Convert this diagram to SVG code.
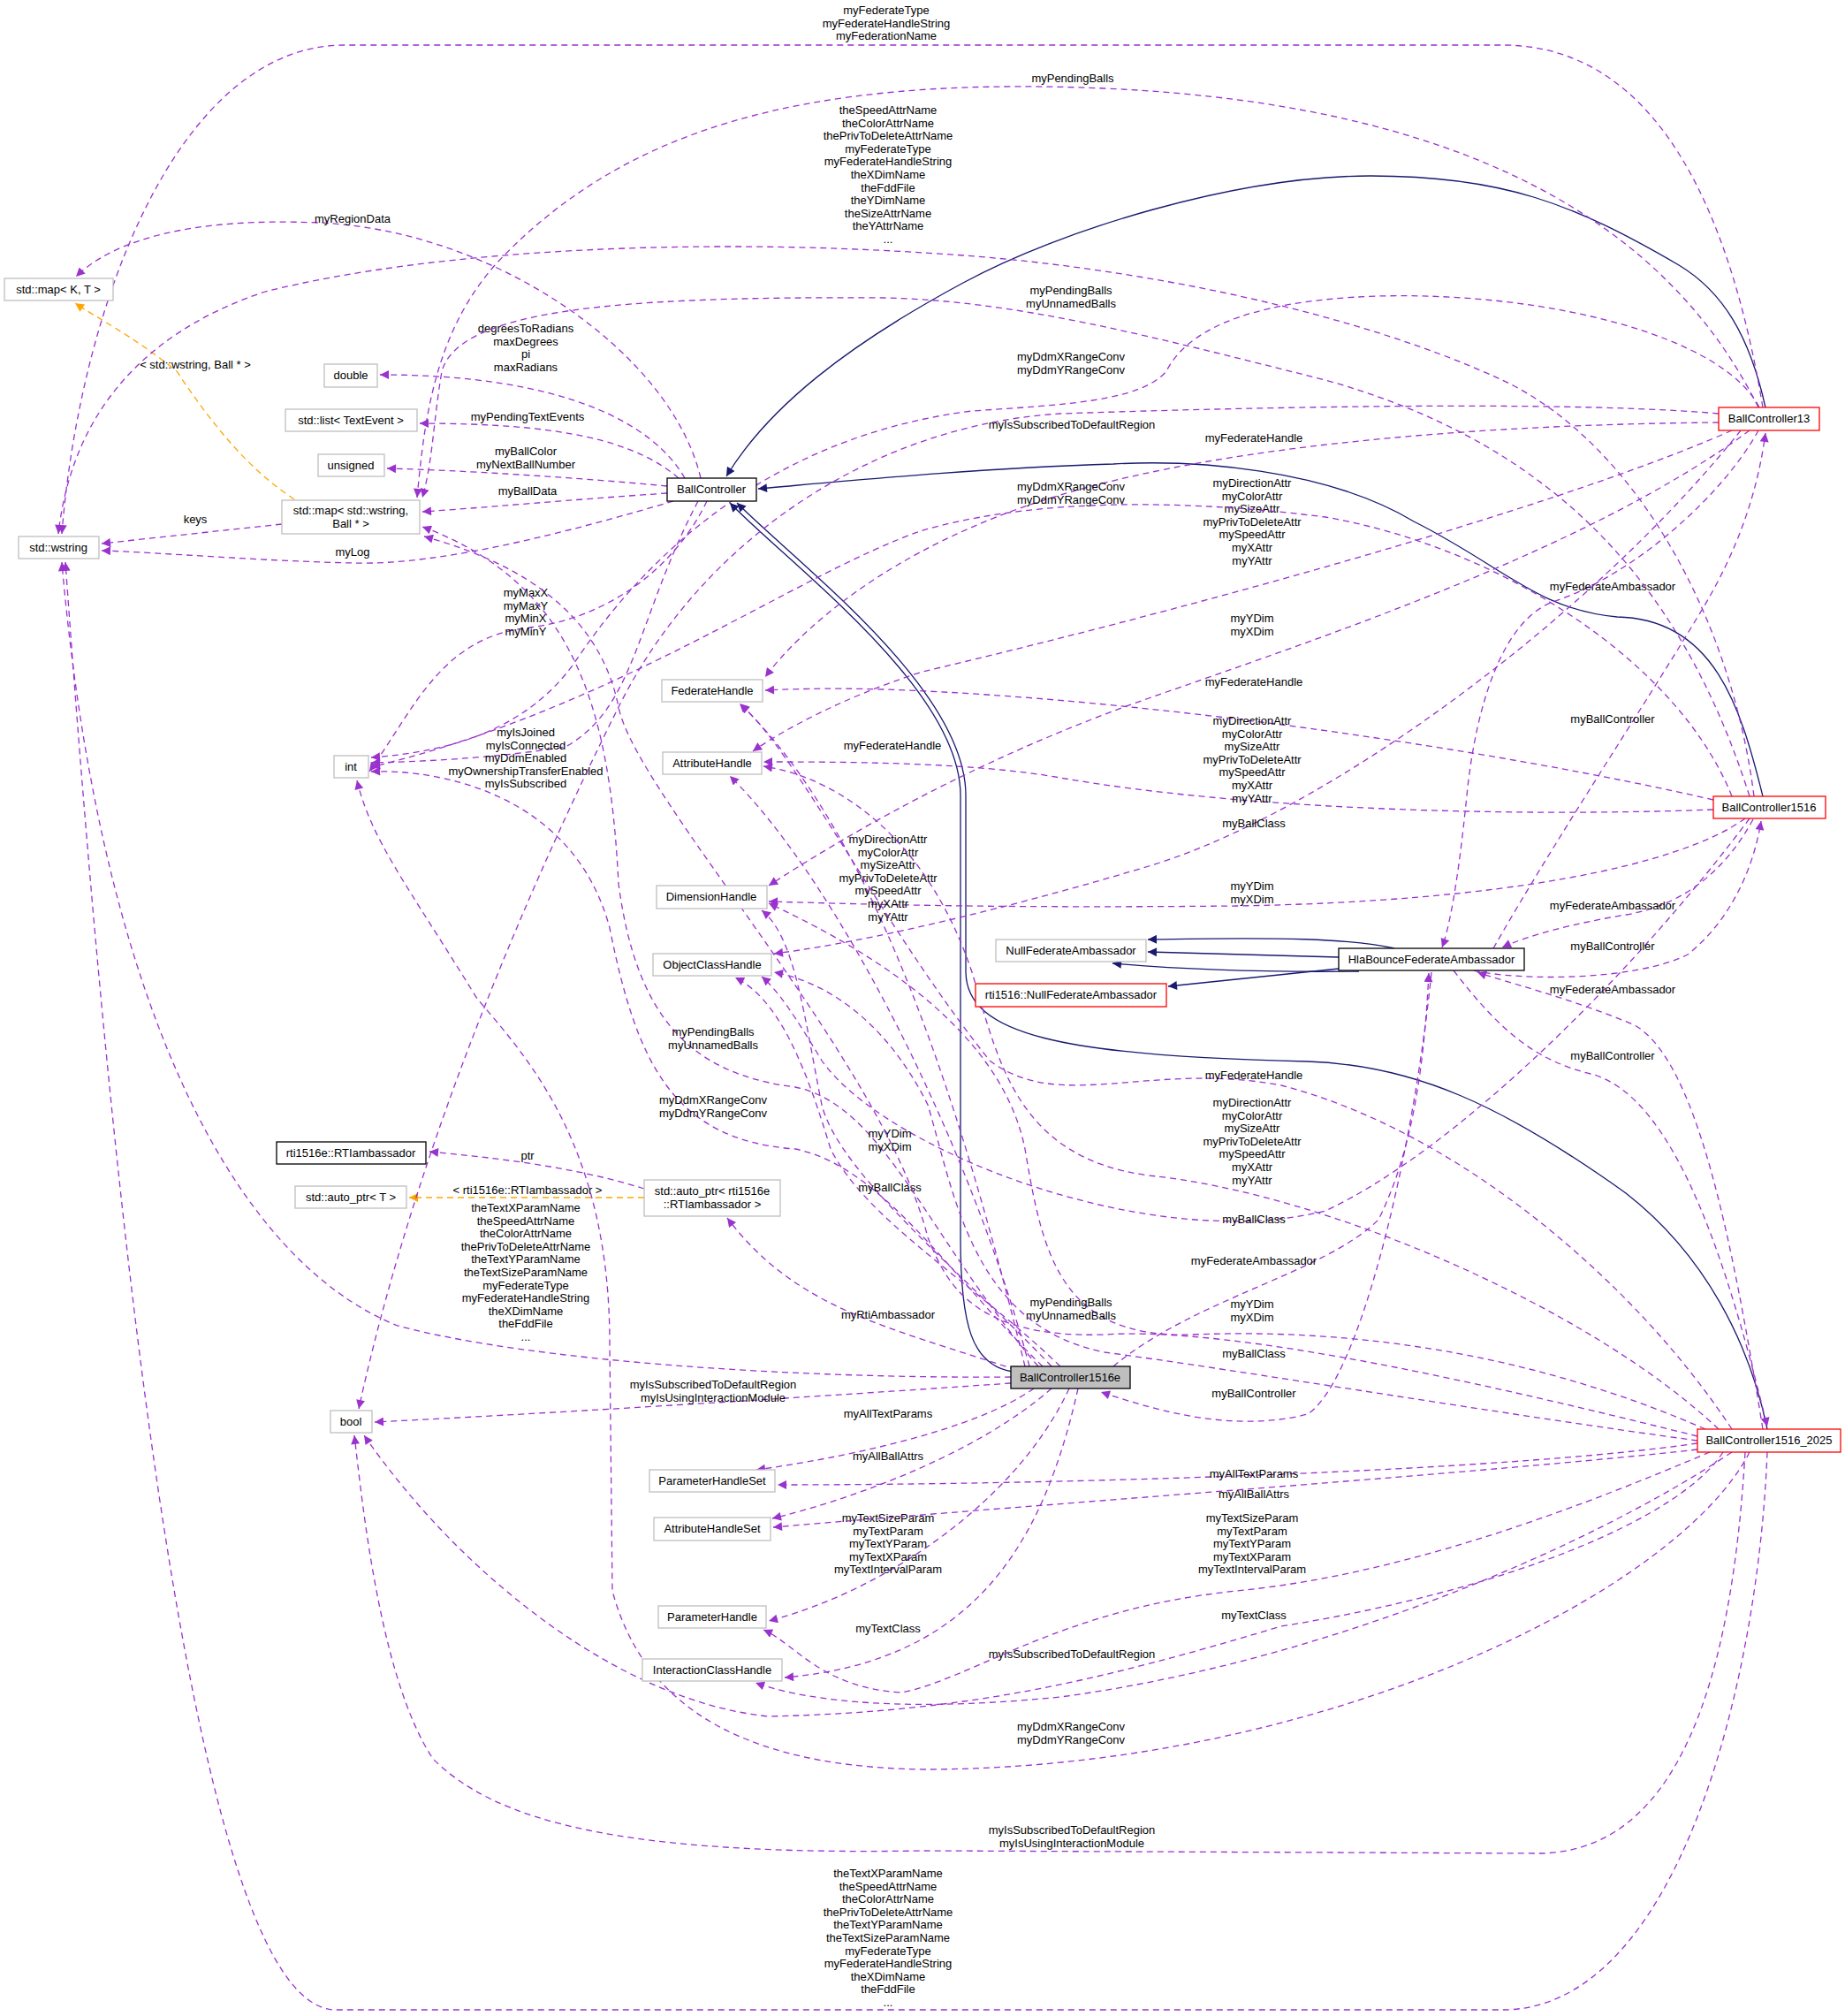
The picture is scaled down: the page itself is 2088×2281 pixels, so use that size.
<svg xmlns="http://www.w3.org/2000/svg" width="2088" height="2281" viewBox="0 0 2088 2281">
<style>
text{font-family:"Liberation Sans",Arial,sans-serif;font-size:13px;fill:#000;text-anchor:middle}
.n rect{fill:#fff;stroke:#bfbfbf;stroke-width:1.3}
.n.b rect{stroke:#000}
.n.r rect{stroke:#ff0000}
.n.g rect{fill:#bfbfbf;stroke:#000}
.u{fill:none;stroke:#9a32cd;stroke-width:1.3;stroke-dasharray:7,5;marker-end:url(#pa)}
.t{fill:none;stroke:#ffa500;stroke-width:1.3;stroke-dasharray:7,5;marker-end:url(#oa)}
.i{fill:none;stroke:#191970;stroke-width:1.3;marker-end:url(#na)}
</style>
<defs>
<marker id="pa" viewBox="0 0 10 10" refX="10" refY="5" markerWidth="13" markerHeight="10" markerUnits="userSpaceOnUse" orient="auto"><path d="M0,0L10,5L0,10z" fill="#9a32cd"/></marker>
<marker id="oa" viewBox="0 0 10 10" refX="10" refY="5" markerWidth="13" markerHeight="10" markerUnits="userSpaceOnUse" orient="auto"><path d="M0,0L10,5L0,10z" fill="#ffa500"/></marker>
<marker id="na" viewBox="0 0 10 10" refX="10" refY="5" markerWidth="13" markerHeight="10" markerUnits="userSpaceOnUse" orient="auto"><path d="M0,0L10,5L0,10z" fill="#191970"/></marker>
</defs>
<rect width="2088" height="2281" fill="#fff"/>
<g id="edges">
<!-- inheritance -->
<path class="i" d="M1998,461 C1980,380 1950,330 1900,300 C1780,230 1700,199 1551,199 C1400,199 1200,260 1090,320 C960,390 870,460 822,539"/>
<path class="i" d="M1995,901 C1970,800 1940,700 1830,698 C1740,690 1700,640 1600,590 C1500,530 1350,520 1260,525 C1100,530 950,545 858,553"/>
<path class="i" d="M1146,1552 C1100,1545 1087,1500 1087,1400 L1087,900 C1087,780 895,640 826,569"/>
<path class="i" d="M2000,1617 C1980,1520 1930,1420 1840,1350 C1700,1250 1600,1205 1480,1201 C1200,1195 1094,1170 1093,1100 L1093,900 C1093,780 905,640 834,569"/>
<path class="i" d="M1578,1073 C1530,1062 1450,1060 1299,1063"/>
<path class="i" d="M1515,1083 L1299,1077"/>
<path class="i" d="M1538,1099 C1450,1100 1350,1098 1259,1090"/>
<path class="i" d="M1515,1096 L1322,1116"/>
<!-- templates -->
<path class="t" d="M333,565 C280,530 240,480 200,420 C150,380 110,360 85,343"/>
<text x="221" y="417">&lt; std::wstring, Ball * &gt;</text>
<path class="t" d="M729,1355 L463,1355"/>
<text x="597" y="1351">&lt; rti1516e::RTIambassador &gt;</text>
<!-- BallController -->
<path class="u" d="M793,541 C760,400 560,260 360,252 C220,246 130,270 86,313"/>
<text x="399" y="252">myRegionData</text>
<path class="u" d="M775,541 C740,480 640,424 430,424"/>
<text x="595" y="376">degreesToRadians<tspan x="595" dy="14.6">maxDegrees</tspan><tspan x="595" dy="14.6">pi</tspan><tspan x="595" dy="14.6">maxRadians</tspan></text>
<path class="u" d="M768,541 C720,500 640,479 475,479"/>
<text x="597" y="476">myPendingTextEvents</text>
<path class="u" d="M755,550 C650,540 520,532 438,530"/>
<text x="595" y="515">myBallColor<tspan x="595" dy="14.6">myNextBallNumber</tspan></text>
<path class="u" d="M755,558 C650,565 540,575 478,579"/>
<text x="597" y="560">myBallData</text>
<path class="u" d="M762,567 C650,600 500,640 400,637 C300,635 180,625 115,623"/>
<text x="399" y="629">myLog</text>
<path class="u" d="M319,593 L115,615"/>
<text x="221" y="592">keys</text>
<path class="u" d="M790,567 C720,700 720,800 640,845 C560,858 470,862 420,863"/>
<text x="595" y="833">myIsJoined<tspan x="595" dy="14.6">myIsConnected</tspan><tspan x="595" dy="14.6">myDdmEnabled</tspan><tspan x="595" dy="14.6">myOwnershipTransferEnabled</tspan><tspan x="595" dy="14.6">myIsSubscribed</tspan></text>
<path class="u" d="M800,567 C760,650 680,700 600,710 C500,720 470,800 418,873"/>
<text x="595" y="675">myMaxX<tspan x="595" dy="14.6">myMaxY</tspan><tspan x="595" dy="14.6">myMinX</tspan><tspan x="595" dy="14.6">myMinY</tspan></text>
<!-- auto_ptr -->
<path class="u" d="M729,1345 C650,1320 560,1310 486,1303"/>
<text x="597" y="1312">ptr</text>
<!-- BallController13 -->
<path class="u" d="M1995,461 C1960,250 1880,51 1700,51 L390,51 C200,51 90,350 70,604"/>
<text x="1003" y="16">myFederateType<tspan x="1003" dy="14.6">myFederateHandleString</tspan><tspan x="1003" dy="14.6">myFederationName</tspan></text>
<path class="u" d="M1990,461 C1900,280 1700,120 1250,100 C900,85 700,150 560,300 C490,380 480,480 472,563"/>
<text x="1214" y="93">myPendingBalls</text>
<path class="u" d="M1991,461 C1950,380 1750,330 1560,335 C1400,340 1340,380 1320,420 C1290,455 1200,458 1100,465 C900,490 750,600 650,750 C600,820 520,850 420,857"/>
<text x="1212" y="408">myDdmXRangeConv<tspan x="1212" dy="14.6">myDdmYRangeConv</tspan></text>
<path class="u" d="M1945,468 C1800,455 1500,458 1200,468 C1000,480 800,600 700,800 C600,1000 470,1300 406,1594"/>
<text x="1213" y="485">myIsSubscribedToDefaultRegion</text>
<path class="u" d="M1945,478 C1700,480 1400,500 1200,560 C1000,620 900,720 866,766"/>
<text x="1419" y="500">myFederateHandle</text>
<path class="u" d="M1960,487 C1750,580 1300,700 1044,760 C950,790 880,830 852,850"/>
<text x="1417" y="551">myDirectionAttr<tspan x="1417" dy="14.6">myColorAttr</tspan><tspan x="1417" dy="14.6">mySizeAttr</tspan><tspan x="1417" dy="14.6">myPrivToDeleteAttr</tspan><tspan x="1417" dy="14.6">mySpeedAttr</tspan><tspan x="1417" dy="14.6">myXAttr</tspan><tspan x="1417" dy="14.6">myYAttr</tspan></text>
<path class="u" d="M1990,487 C1950,560 1850,650 1760,680 C1700,700 1670,800 1660,900 C1650,1000 1640,1050 1632,1072"/>
<text x="1825" y="668">myFederateAmbassador</text>
<path class="u" d="M1980,487 C1800,620 1500,720 1300,790 C1100,860 950,950 870,1002"/>
<text x="1417" y="704">myYDim<tspan x="1417" dy="14.6">myXDim</tspan></text>
<path class="u" d="M1970,487 C1800,700 1500,920 1300,980 C1100,1040 950,1070 876,1079"/>
<text x="1419" y="936">myBallClass</text>
<!-- BallController1516 -->
<path class="u" d="M1985,901 C1960,700 1850,500 1700,430 C1550,360 1300,300 1045,286 C800,270 500,280 300,330 C150,380 80,480 66,604"/>
<text x="1005" y="129">theSpeedAttrName<tspan x="1005" dy="14.6">theColorAttrName</tspan><tspan x="1005" dy="14.6">thePrivToDeleteAttrName</tspan><tspan x="1005" dy="14.6">myFederateType</tspan><tspan x="1005" dy="14.6">myFederateHandleString</tspan><tspan x="1005" dy="14.6">theXDimName</tspan><tspan x="1005" dy="14.6">theFddFile</tspan><tspan x="1005" dy="14.6">theYDimName</tspan><tspan x="1005" dy="14.6">theSizeAttrName</tspan><tspan x="1005" dy="14.6">theYAttrName</tspan><tspan x="1005" dy="14.6">...</tspan></text>
<path class="u" d="M1980,901 C1900,650 1750,500 1500,430 C1300,380 1150,340 1000,337 C700,335 520,350 500,420 C490,480 490,520 478,563"/>
<text x="1212" y="333">myPendingBalls<tspan x="1212" dy="14.6">myUnnamedBalls</tspan></text>
<path class="u" d="M1960,901 C1900,750 1700,620 1500,585 C1300,560 1150,570 1044,600 C900,650 700,800 420,868"/>
<text x="1212" y="555">myDdmXRangeConv<tspan x="1212" dy="14.6">myDdmYRangeConv</tspan></text>
<path class="u" d="M1939,905 C1700,850 1300,790 1000,780 C930,778 890,780 866,781"/>
<text x="1419" y="776">myFederateHandle</text>
<path class="u" d="M1939,916 C1700,925 1400,915 1200,880 C1100,862 950,862 864,862"/>
<text x="1417" y="820">myDirectionAttr<tspan x="1417" dy="14.6">myColorAttr</tspan><tspan x="1417" dy="14.6">mySizeAttr</tspan><tspan x="1417" dy="14.6">myPrivToDeleteAttr</tspan><tspan x="1417" dy="14.6">mySpeedAttr</tspan><tspan x="1417" dy="14.6">myXAttr</tspan><tspan x="1417" dy="14.6">myYAttr</tspan></text>
<path class="u" d="M1975,926 C1900,980 1700,1020 1400,1025 C1100,1028 950,1022 870,1020"/>
<text x="1417" y="1007">myYDim<tspan x="1417" dy="14.6">myXDim</tspan></text>
<path class="u" d="M1984,927 C1950,990 1900,1025 1840,1035 C1780,1045 1730,1058 1700,1072"/>
<text x="1825" y="1029">myFederateAmbassador</text>
<path class="u" d="M1980,926 C1850,1100 1650,1300 1500,1370 C1300,1420 1000,1300 930,1200 C900,1150 880,1120 862,1105"/>
<text x="1419" y="1384">myBallClass</text>
<!-- HlaBounceFederateAmbassador -->
<path class="u" d="M1690,1073 C1760,950 1860,800 1920,700 C1970,620 1990,550 1998,490"/>
<text x="1825" y="818">myBallController</text>
<path class="u" d="M1668,1098 C1720,1110 1850,1110 1910,1080 C1960,1040 1985,980 1993,929"/>
<text x="1825" y="1075">myBallController</text>
<path class="u" d="M1645,1098 C1700,1170 1740,1200 1800,1215 C1900,1240 1960,1450 2000,1614"/>
<text x="1825" y="1199">myBallController</text>
<path class="u" d="M1620,1100 C1600,1300 1540,1560 1480,1600 C1400,1620 1320,1600 1246,1575"/>
<text x="1419" y="1581">myBallController</text>
<!-- BallController1516e -->
<path class="u" d="M1144,1558 C900,1560 600,1540 450,1500 C250,1420 110,1100 70,636"/>
<text x="595" y="1371">theTextXParamName<tspan x="595" dy="14.6">theSpeedAttrName</tspan><tspan x="595" dy="14.6">theColorAttrName</tspan><tspan x="595" dy="14.6">thePrivToDeleteAttrName</tspan><tspan x="595" dy="14.6">theTextYParamName</tspan><tspan x="595" dy="14.6">theTextSizeParamName</tspan><tspan x="595" dy="14.6">myFederateType</tspan><tspan x="595" dy="14.6">myFederateHandleString</tspan><tspan x="595" dy="14.6">theXDimName</tspan><tspan x="595" dy="14.6">theFddFile</tspan><tspan x="595" dy="14.6">...</tspan></text>
<path class="u" d="M1144,1565 C1000,1575 700,1595 424,1609"/>
<text x="807" y="1571">myIsSubscribedToDefaultRegion<tspan x="807" dy="14.6">myIsUsingInteractionModule</tspan></text>
<path class="u" d="M1170,1571 C1100,1620 950,1650 856,1663"/>
<text x="1005" y="1604">myAllTextParams</text>
<path class="u" d="M1190,1571 C1100,1650 950,1700 874,1718"/>
<text x="1005" y="1652">myAllBallAttrs</text>
<path class="u" d="M1210,1571 C1150,1700 1000,1800 870,1834"/>
<text x="1005" y="1722">myTextSizeParam<tspan x="1005" dy="14.6">myTextParam</tspan><tspan x="1005" dy="14.6">myTextYParam</tspan><tspan x="1005" dy="14.6">myTextXParam</tspan><tspan x="1005" dy="14.6">myTextIntervalParam</tspan></text>
<path class="u" d="M1220,1571 C1180,1750 1100,1880 888,1898"/>
<text x="1005" y="1847">myTextClass</text>
<path class="u" d="M1150,1550 C1000,1500 900,1480 823,1378"/>
<text x="1005" y="1492">myRtiAmbassador</text>
<path class="u" d="M1160,1546 C1100,1300 1000,950 837,796"/>
<text x="1010" y="848">myFederateHandle</text>
<path class="u" d="M1165,1546 C1100,1300 950,1000 826,878"/>
<text x="1005" y="954">myDirectionAttr<tspan x="1005" dy="14.6">myColorAttr</tspan><tspan x="1005" dy="14.6">mySizeAttr</tspan><tspan x="1005" dy="14.6">myPrivToDeleteAttr</tspan><tspan x="1005" dy="14.6">mySpeedAttr</tspan><tspan x="1005" dy="14.6">myXAttr</tspan><tspan x="1005" dy="14.6">myYAttr</tspan></text>
<path class="u" d="M1175,1546 C1050,1400 1000,1250 900,1230 C780,1215 720,1150 700,1000 C690,800 650,660 478,596"/>
<text x="807" y="1172">myPendingBalls<tspan x="807" dy="14.6">myUnnamedBalls</tspan></text>
<path class="u" d="M1180,1546 C1080,1450 1000,1320 900,1300 C760,1290 720,1200 690,1050 C650,900 500,870 420,873"/>
<text x="807" y="1249">myDdmXRangeConv<tspan x="807" dy="14.6">myDdmYRangeConv</tspan></text>
<path class="u" d="M1190,1546 C1100,1450 950,1330 930,1250 C910,1150 900,1060 862,1030"/>
<text x="1007" y="1287">myYDim<tspan x="1007" dy="14.6">myXDim</tspan></text>
<path class="u" d="M1200,1546 C1100,1450 980,1380 940,1300 C910,1200 880,1130 832,1106"/>
<text x="1007" y="1348">myBallClass</text>
<path class="u" d="M1260,1546 C1350,1470 1500,1440 1560,1380 C1600,1300 1612,1200 1617,1101"/>
<text x="1419" y="1431">myFederateAmbassador</text>
<!-- BallController1516_2025 -->
<path class="u" d="M2000,1643 C1990,1900 1900,2274 1700,2274 L380,2274 C250,2274 150,1700 74,636"/>
<text x="1005" y="2124">theTextXParamName<tspan x="1005" dy="14.6">theSpeedAttrName</tspan><tspan x="1005" dy="14.6">theColorAttrName</tspan><tspan x="1005" dy="14.6">thePrivToDeleteAttrName</tspan><tspan x="1005" dy="14.6">theTextYParamName</tspan><tspan x="1005" dy="14.6">theTextSizeParamName</tspan><tspan x="1005" dy="14.6">myFederateType</tspan><tspan x="1005" dy="14.6">myFederateHandleString</tspan><tspan x="1005" dy="14.6">theXDimName</tspan><tspan x="1005" dy="14.6">theFddFile</tspan><tspan x="1005" dy="14.6">...</tspan></text>
<path class="u" d="M1975,1643 C1960,1900 1900,2097 1740,2097 L1045,2094 C700,2100 560,2060 490,1990 C430,1900 410,1700 401,1624"/>
<text x="1213" y="2075">myIsSubscribedToDefaultRegion<tspan x="1213" dy="14.6">myIsUsingInteractionModule</tspan></text>
<path class="u" d="M1980,1643 C1900,1800 1500,2000 1050,2002 C800,2000 720,1900 693,1800 L690,1520 C690,1300 600,1200 540,1130 C460,1000 420,950 404,883"/>
<text x="1212" y="1958">myDdmXRangeConv<tspan x="1212" dy="14.6">myDdmYRangeConv</tspan></text>
<path class="u" d="M1950,1643 C1900,1720 1700,1800 1450,1840 C1250,1900 1100,1937 870,1942 C700,1925 520,1780 412,1624"/>
<text x="1213" y="1876">myIsSubscribedToDefaultRegion</text>
<path class="u" d="M1935,1643 C1800,1700 1600,1780 1400,1800 C1200,1820 1100,1900 1020,1915 C930,1910 900,1860 864,1844"/>
<text x="1417" y="1722">myTextSizeParam<tspan x="1417" dy="14.6">myTextParam</tspan><tspan x="1417" dy="14.6">myTextYParam</tspan><tspan x="1417" dy="14.6">myTextXParam</tspan><tspan x="1417" dy="14.6">myTextIntervalParam</tspan></text>
<path class="u" d="M1960,1643 C1800,1750 1500,1880 1200,1920 C1000,1940 900,1920 855,1904"/>
<text x="1419" y="1832">myTextClass</text>
<path class="u" d="M1921,1640 C1700,1665 1200,1700 875,1728"/>
<text x="1419" y="1695">myAllBallAttrs</text>
<path class="u" d="M1921,1633 C1700,1665 1200,1680 880,1680"/>
<text x="1419" y="1672">myAllTextParams</text>
<path class="u" d="M1995,1617 C1960,1400 1920,1200 1850,1160 C1780,1130 1700,1110 1672,1100"/>
<text x="1825" y="1124">myFederateAmbassador</text>
<path class="u" d="M1960,1617 C1850,1450 1650,1280 1450,1228 C1300,1200 1200,1260 1120,1200 C1000,1050 900,850 838,797"/>
<text x="1419" y="1221">myFederateHandle</text>
<path class="u" d="M1945,1617 C1800,1480 1500,1350 1300,1330 C1150,1310 1130,1200 1100,1100 C1050,950 950,880 864,867"/>
<text x="1417" y="1252">myDirectionAttr<tspan x="1417" dy="14.6">myColorAttr</tspan><tspan x="1417" dy="14.6">mySizeAttr</tspan><tspan x="1417" dy="14.6">myPrivToDeleteAttr</tspan><tspan x="1417" dy="14.6">mySpeedAttr</tspan><tspan x="1417" dy="14.6">myXAttr</tspan><tspan x="1417" dy="14.6">myYAttr</tspan></text>
<path class="u" d="M1930,1617 C1800,1560 1600,1500 1350,1510 C1200,1515 1180,1420 1160,1300 C1130,1150 950,1060 870,1022"/>
<text x="1417" y="1480">myYDim<tspan x="1417" dy="14.6">myXDim</tspan></text>
<path class="u" d="M1921,1625 C1700,1570 1400,1500 1250,1510 C1100,1515 1070,1450 1050,1400 C1000,1200 720,900 700,800 C680,700 600,640 480,607"/>
<text x="1212" y="1478">myPendingBalls<tspan x="1212" dy="14.6">myUnnamedBalls</tspan></text>
<path class="u" d="M1921,1630 C1700,1600 1400,1550 1250,1530 C1100,1500 1080,1350 1050,1250 C1000,1150 930,1110 876,1100"/>
<text x="1419" y="1536">myBallClass</text>
</g>
<g id="n_mapKT" class="n"><rect x="5" y="315" width="123" height="25"/><text x="66" y="332">std::map&lt; K, T &gt;</text></g>
<g id="n_double" class="n"><rect x="367" y="412" width="60" height="26"/><text x="397" y="429">double</text></g>
<g id="n_list" class="n"><rect x="323" y="463" width="149" height="25"/><text x="397" y="480">std::list&lt; TextEvent &gt;</text></g>
<g id="n_unsigned" class="n"><rect x="360" y="514" width="75" height="25"/><text x="397" y="531">unsigned</text></g>
<g id="n_mapWB" class="n"><rect x="319" y="566" width="156" height="38"/><text x="397" y="582">std::map&lt; std::wstring,<tspan x="397" dy="14.6">Ball * &gt;</tspan></text></g>
<g id="n_wstring" class="n"><rect x="21" y="607" width="91" height="25"/><text x="66" y="624">std::wstring</text></g>
<g id="n_BallController" class="n b"><rect x="755" y="541" width="101" height="26"/><text x="805" y="558">BallController</text></g>
<g id="n_BC13" class="n r"><rect x="1945" y="461" width="114" height="26"/><text x="2002" y="478">BallController13</text></g>
<g id="n_FederateHandle" class="n"><rect x="749" y="769" width="114" height="25"/><text x="806" y="786">FederateHandle</text></g>
<g id="n_AttributeHandle" class="n"><rect x="750" y="851" width="112" height="25"/><text x="806" y="868">AttributeHandle</text></g>
<g id="n_int" class="n"><rect x="378" y="855" width="39" height="25"/><text x="397" y="872">int</text></g>
<g id="n_DimensionHandle" class="n"><rect x="743" y="1002" width="125" height="26"/><text x="805" y="1019">DimensionHandle</text></g>
<g id="n_ObjectClassHandle" class="n"><rect x="739" y="1079" width="134" height="25"/><text x="806" y="1096">ObjectClassHandle</text></g>
<g id="n_RTIambassador" class="n b"><rect x="313" y="1292" width="169" height="25"/><text x="397" y="1309">rti1516e::RTIambassador</text></g>
<g id="n_autoptrT" class="n"><rect x="334" y="1342" width="126" height="25"/><text x="397" y="1359">std::auto_ptr&lt; T &gt;</text></g>
<g id="n_autoptrRTI" class="n"><rect x="729" y="1335" width="154" height="41"/><text x="806" y="1352">std::auto_ptr&lt; rti1516e<tspan x="806" dy="14.6">::RTIambassador &gt;</tspan></text></g>
<g id="n_BC1516" class="n r"><rect x="1939" y="901" width="127" height="25"/><text x="2002" y="918">BallController1516</text></g>
<g id="n_NullFedAmb" class="n"><rect x="1127" y="1063" width="170" height="25"/><text x="1212" y="1080">NullFederateAmbassador</text></g>
<g id="n_Hla" class="n b"><rect x="1515" y="1073" width="210" height="25"/><text x="1620" y="1090">HlaBounceFederateAmbassador</text></g>
<g id="n_rtiNullFedAmb" class="n r"><rect x="1104" y="1113" width="216" height="26"/><text x="1212" y="1130">rti1516::NullFederateAmbassador</text></g>
<g id="n_bool" class="n"><rect x="374" y="1596" width="47" height="25"/><text x="397" y="1613">bool</text></g>
<g id="n_ParameterHandleSet" class="n"><rect x="735" y="1663" width="142" height="25"/><text x="806" y="1680">ParameterHandleSet</text></g>
<g id="n_AttributeHandleSet" class="n"><rect x="740" y="1717" width="132" height="26"/><text x="806" y="1734">AttributeHandleSet</text></g>
<g id="n_ParameterHandle" class="n"><rect x="745" y="1817" width="122" height="25"/><text x="806" y="1834">ParameterHandle</text></g>
<g id="n_InteractionClassHandle" class="n"><rect x="727" y="1877" width="158" height="25"/><text x="806" y="1894">InteractionClassHandle</text></g>
<g id="n_BC1516e" class="n g"><rect x="1144" y="1546" width="135" height="25"/><text x="1211" y="1563">BallController1516e</text></g>
<g id="n_BC2025" class="n r"><rect x="1921" y="1617" width="162" height="26"/><text x="2002" y="1634">BallController1516_2025</text></g>
</svg>
